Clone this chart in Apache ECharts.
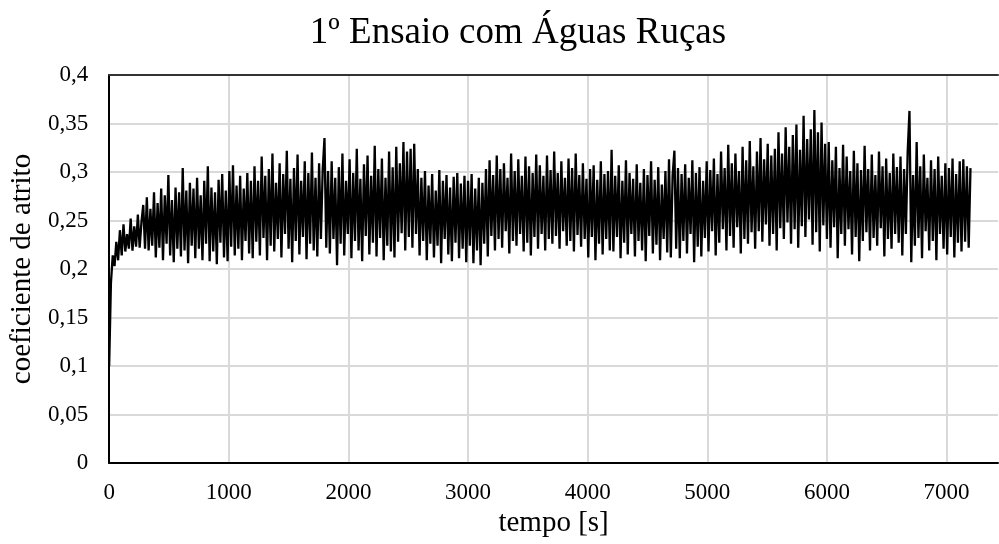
<!DOCTYPE html>
<html>
<head>
<meta charset="utf-8">
<title>1º Ensaio com Águas Ruças</title>
<script src="https://cdn.jsdelivr.net/npm/echarts@6/dist/echarts.min.js"></script>
<style>
  html, body { margin: 0; padding: 0; background: #fff; }
  #chart { width: 999px; height: 544px; }
</style>
</head>
<body>
<div id="chart"></div>
<script>
// leituras a cada 15 s (0 .. 7200 s)
var passo = 15
var coeficiente = [
  0.100, 0.186, 0.214, 0.203, 0.228, 0.209, 0.240, 0.214, 0.246, 0.218, 0.236, 0.221, 0.252, 0.219, 0.244, 0.223, 0.256, 0.222, 0.248, 0.266,
  0.221, 0.274, 0.219, 0.262, 0.224, 0.279, 0.212, 0.268, 0.222, 0.283, 0.209, 0.276, 0.226, 0.297, 0.214, 0.271, 0.207, 0.284, 0.221, 0.279,
  0.213, 0.304, 0.219, 0.281, 0.206, 0.289, 0.224, 0.283, 0.211, 0.294, 0.221, 0.276, 0.209, 0.291, 0.226, 0.306, 0.208, 0.284, 0.218, 0.279,
  0.205, 0.292, 0.227, 0.298, 0.212, 0.281, 0.208, 0.301, 0.223, 0.307, 0.214, 0.286, 0.221, 0.296, 0.209, 0.283, 0.229, 0.299, 0.216, 0.291,
  0.211, 0.306, 0.228, 0.291, 0.214, 0.316, 0.232, 0.296, 0.209, 0.303, 0.224, 0.319, 0.218, 0.289, 0.231, 0.309, 0.212, 0.298, 0.236, 0.322,
  0.221, 0.293, 0.207, 0.304, 0.229, 0.318, 0.215, 0.291, 0.233, 0.311, 0.210, 0.299, 0.226, 0.320, 0.219, 0.294, 0.213, 0.309, 0.231, 0.302,
  0.335, 0.222, 0.301, 0.216, 0.311, 0.231, 0.294, 0.204, 0.305, 0.226, 0.319, 0.214, 0.291, 0.236, 0.313, 0.211, 0.299, 0.229, 0.324, 0.219,
  0.293, 0.208, 0.308, 0.234, 0.317, 0.215, 0.296, 0.227, 0.327, 0.213, 0.303, 0.232, 0.314, 0.209, 0.294, 0.224, 0.321, 0.218, 0.305, 0.212,
  0.326, 0.228, 0.309, 0.237, 0.331, 0.219, 0.321, 0.233, 0.324, 0.222, 0.329, 0.236, 0.303, 0.214, 0.294, 0.229, 0.301, 0.209, 0.286, 0.226,
  0.298, 0.212, 0.281, 0.224, 0.302, 0.206, 0.291, 0.231, 0.297, 0.215, 0.284, 0.208, 0.295, 0.227, 0.299, 0.211, 0.288, 0.221, 0.296, 0.207,
  0.291, 0.224, 0.298, 0.206, 0.283, 0.219, 0.294, 0.204, 0.289, 0.226, 0.303, 0.213, 0.312, 0.234, 0.297, 0.219, 0.317, 0.231, 0.303, 0.222,
  0.309, 0.239, 0.294, 0.216, 0.319, 0.229, 0.301, 0.224, 0.313, 0.236, 0.296, 0.218, 0.316, 0.227, 0.306, 0.214, 0.299, 0.233, 0.318, 0.221,
  0.307, 0.236, 0.296, 0.219, 0.317, 0.231, 0.302, 0.226, 0.321, 0.234, 0.299, 0.221, 0.311, 0.239, 0.294, 0.224, 0.314, 0.229, 0.304, 0.218,
  0.319, 0.235, 0.297, 0.223, 0.309, 0.231, 0.293, 0.212, 0.303, 0.233, 0.307, 0.209, 0.292, 0.226, 0.311, 0.215, 0.298, 0.231, 0.301, 0.219,
  0.323, 0.218, 0.296, 0.233, 0.307, 0.211, 0.291, 0.227, 0.312, 0.215, 0.299, 0.236, 0.293, 0.213, 0.308, 0.229, 0.289, 0.219, 0.303, 0.208,
  0.297, 0.234, 0.311, 0.216, 0.292, 0.225, 0.305, 0.209, 0.287, 0.231, 0.301, 0.217, 0.313, 0.212, 0.296, 0.322, 0.221, 0.304, 0.211, 0.298,
  0.229, 0.308, 0.216, 0.294, 0.236, 0.312, 0.207, 0.299, 0.223, 0.305, 0.213, 0.291, 0.232, 0.311, 0.218, 0.302, 0.239, 0.314, 0.214, 0.298,
  0.227, 0.321, 0.241, 0.304, 0.219, 0.328, 0.234, 0.309, 0.222, 0.319, 0.243, 0.301, 0.216, 0.326, 0.231, 0.312, 0.226, 0.332, 0.238, 0.306,
  0.221, 0.321, 0.239, 0.335, 0.228, 0.313, 0.246, 0.329, 0.224, 0.317, 0.236, 0.324, 0.219, 0.341, 0.242, 0.319, 0.231, 0.346, 0.248, 0.326,
  0.226, 0.338, 0.241, 0.349, 0.222, 0.323, 0.244, 0.358, 0.233, 0.334, 0.251, 0.344, 0.225, 0.364, 0.238, 0.341, 0.218, 0.351, 0.245, 0.329,
  0.231, 0.331, 0.222, 0.312, 0.243, 0.326, 0.211, 0.304, 0.236, 0.328, 0.224, 0.316, 0.241, 0.301, 0.215, 0.322, 0.233, 0.309, 0.208, 0.302,
  0.229, 0.327, 0.238, 0.303, 0.219, 0.318, 0.232, 0.297, 0.224, 0.321, 0.242, 0.306, 0.213, 0.314, 0.231, 0.299, 0.221, 0.319, 0.236, 0.305,
  0.227, 0.316, 0.214, 0.303, 0.236, 0.321, 0.363, 0.207, 0.297, 0.224, 0.331, 0.232, 0.306, 0.211, 0.318, 0.239, 0.294, 0.219, 0.312, 0.229,
  0.303, 0.209, 0.316, 0.236, 0.296, 0.221, 0.309, 0.215, 0.304, 0.233, 0.314, 0.212, 0.298, 0.227, 0.311, 0.218, 0.313, 0.228, 0.306, 0.222,
  0.304
]
var tempo = coeficiente.map(function (v, i) { return i * passo })

var fonte = 'Liberation Serif, Times New Roman, serif'
var virgula = function (v) { return String(+v.toFixed(2)).replace('.', ',') }

var chart = echarts.init(document.getElementById('chart'))
chart.setOption({
  animation: false,
  backgroundColor: '#fff',
  title: {
    text: '1º Ensaio com Águas Ruças',
    left: 513,
    textAlign: 'center',
    top: 10,
    textStyle: { fontFamily: fonte, fontSize: 37, fontWeight: 'normal', color: '#000' }
  },
  grid: { left: 108, right: 1, top: 75, bottom: 81 },
  xAxis: [
    {
      type: 'value',
      min: 0,
      max: 7430,
      interval: 1000,
      name: 'tempo [s]',
      nameLocation: 'middle',
      nameGap: 45,
      nameTextStyle: { fontFamily: fonte, fontSize: 29, color: '#000' },
      axisLine: { lineStyle: { color: '#000', width: 2 } },
      axisTick: { show: false },
      axisLabel: {
        fontFamily: fonte, fontSize: 23, color: '#000', margin: 18, showMaxLabel: false,
        formatter: function (v) { return String(v) }
      },
      splitLine: { show: true, showMaxLine: false, lineStyle: { color: '#d9d9d9', width: 2 } }
    },
    {
      type: 'value',
      position: 'top',
      min: 0,
      max: 7430,
      axisLine: { lineStyle: { color: '#333', width: 2 } },
      axisTick: { show: false },
      axisLabel: { show: false },
      splitLine: { show: false }
    }
  ],
  yAxis: {
    type: 'value',
    min: 0,
    max: 0.4,
    interval: 0.05,
    name: 'coeficiente de atrito',
    nameLocation: 'middle',
    nameGap: 66,
    nameTextStyle: { fontFamily: fonte, fontSize: 29, color: '#000' },
    axisLine: { show: true, lineStyle: { color: '#000', width: 2 } },
    axisTick: { show: false },
    axisLabel: { fontFamily: fonte, fontSize: 23, color: '#000', margin: 21, formatter: virgula },
    splitLine: { show: true, lineStyle: { color: '#d9d9d9', width: 2 } }
  },
  series: [
    {
      type: 'line',
      xAxisIndex: 0,
      data: tempo.map(function (t, i) { return [t, coeficiente[i]] }),
      showSymbol: false,
      sampling: null,
      lineStyle: { color: '#000', width: 2.3 }
    }
  ]
})
</script>
</body>
</html>
